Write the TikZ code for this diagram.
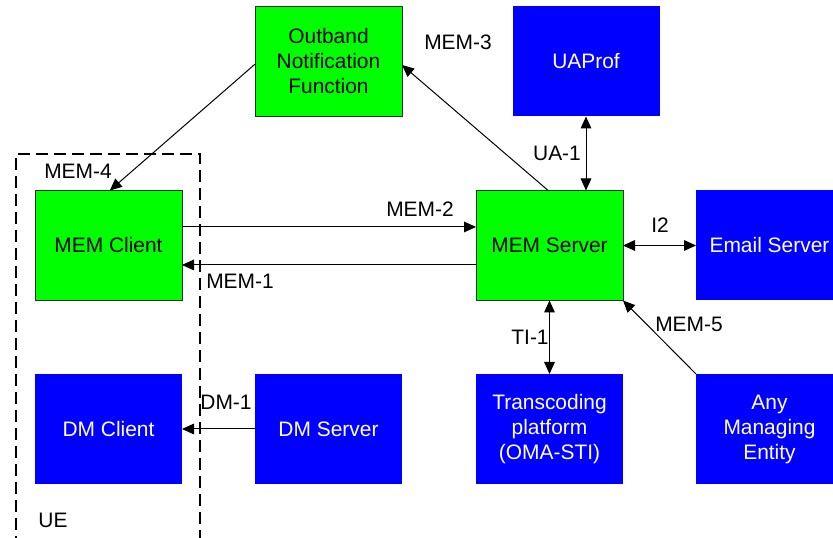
\documentclass[tikz,border=0pt]{standalone}
\usepackage{fontspec}
\setmainfont{Liberation Sans}
\usetikzlibrary{arrows.meta}
\definecolor{boxgreen}{HTML}{00FF00}
\definecolor{boxblue}{HTML}{0000FF}
\definecolor{edgegray}{HTML}{303030}
\begin{document}
\begin{tikzpicture}[x=0.75pt,y=-0.75pt,
  font=\fontsize{15.7}{18.75}\selectfont,
  basebox/.style={minimum width=110.25pt,minimum height=82.5pt,inner sep=0pt,outer sep=0pt,align=center},
  greenbox/.style={basebox,fill=boxgreen,draw=edgegray,line width=0.75pt,text=black},
  bluebox/.style={basebox,fill=boxblue,text=white},
  conn/.style={line width=0.75pt,-{Triangle[length=9pt,width=8pt]}},
  dconn/.style={line width=0.75pt,{Triangle[length=9pt,width=8pt]}-{Triangle[length=9pt,width=8pt]}},
  lab/.style={inner sep=0pt,text=black}]
\useasboundingbox (0,0) rectangle (833,538);
\clip (0,0) rectangle (833,538);
\fill[white] (0,0) rectangle (833,538);
% UE dashed box
\draw[line width=1.5pt,dash pattern=on 9pt off 4.5pt] (200,560) -- (200,154) -- (16,154) -- (16,560);
% boxes
\node[greenbox] (outband) at (328.5,61.5) {Outband\\Notification\\Function};
\node[bluebox] (uaprof) at (586,61.5) {UAProf};
\node[greenbox] (client) at (108.5,245.5) {MEM Client};
\node[greenbox] (server) at (549.5,245.5) {MEM Server};
\node[bluebox] (email) at (769.5,245.5) {Email Server};
\node[bluebox] (dmclient) at (108.5,429) {DM Client};
\node[bluebox] (dmserver) at (328.5,429) {DM Server};
\node[bluebox] (trans) at (549.5,429) {Transcoding\\platform\\(OMA-STI)};
\node[bluebox] (any) at (769.5,429) {Any\\Managing\\Entity};
% connectors
\draw[conn] ([yshift=-2pt]outband.west) -- ([xshift=1pt]client.north);
\draw[conn] ([xshift=-1pt]server.north) -- ([yshift=-2.6pt]outband.east);
\draw[dconn] (uaprof.south) -- (uaprof.south |- server.north);
\draw[conn] ([yshift=13.9pt]client.east) -- ([yshift=13.9pt]server.west);
\draw[conn] ([yshift=-14.6pt]server.west) -- ([yshift=-14.6pt]client.east);
\draw[dconn] (server.east) -- (email.west);
\draw[dconn] (server.south) -- (trans.north);
\draw[conn] (any.north west) -- (server.south east);
\draw[conn] (dmserver.west) -- (dmclient.east);
% labels
\node[lab] (l3) at (458,42) {MEM-3};
\node[lab] (l4) at (78,171) {MEM-4};
\node[lab] (l2) at (420,209) {MEM-2};
\node[lab] (l1) at (240,281) {MEM-1};
\node[lab] (lua) at (557,153) {UA-1};
\node[lab] (li2) at (660,225) {I2};
\node[lab] (lti) at (530,337) {TI-1};
\node[lab] (l5) at (689,324) {MEM-5};
\node[lab] (ldm) at (226,402) {DM-1};
\node[lab] (lue) at (53,520) {UE};
\end{tikzpicture}
\end{document}
